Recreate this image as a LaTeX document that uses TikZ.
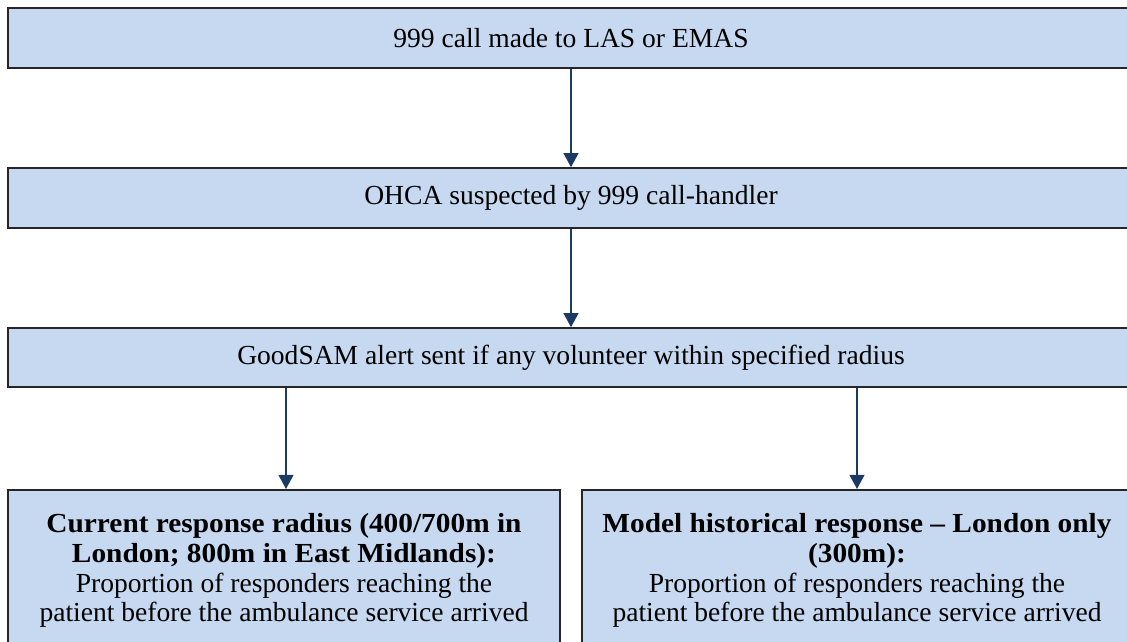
\documentclass[tikz,border=0pt]{standalone}
\usepackage{fontspec}
\setmainfont[BoldFeatures={FakeStretch=1.065}]{Liberation Serif}
\usetikzlibrary{arrows.meta}
\definecolor{boxblue}{HTML}{C6D9F0}
\definecolor{arrowblue}{HTML}{1B3A64}
\tikzstyle{box} = [rectangle, draw=black!85, line width=1.1pt, fill=boxblue, text centered, inner sep=0pt, font=\fontsize{19.6}{21.3}\selectfont]
\tikzstyle{wide} = [box, minimum width=28.15cm, minimum height=1.5cm]
\tikzstyle{result} = [box, anchor=north, minimum width=13.8cm, inner ysep=16.5pt]
\tikzstyle{arrow} = [line width=1.3pt, draw=arrowblue, -{Triangle[length=10pt,width=10.5pt]}, arrowblue]

\begin{document}
\begin{tikzpicture}[x=0.025cm,y=-0.025cm]
	\clip (0,0) rectangle (1127,641);
	\node[wide] (call) at (571,38) {999 call made to LAS or EMAS};
	\node[wide] (ohca) at (571,198) {OHCA suspected by 999 call-handler};
	\node[wide, minimum height=1.475cm] (alert) at (571,357.5) {GoodSAM alert sent if any volunteer within specified radius};
	\node[result] (current) at (284,489) {\parbox[t][4.5cm][t]{13.4cm}{\centering
		\textbf{Current response radius (400/700m in}\\
		\textbf{London; 800m in East Midlands):}\\
		Proportion of responders reaching the\\
		patient before the ambulance service arrived}};
	\node[result, minimum width=13.75cm] (historic) at (857,489) {\parbox[t][4.5cm][t]{13.4cm}{\centering
		\textbf{Model historical response -- London only}\\
		\textbf{(300m):}\\
		Proportion of responders reaching the\\
		patient before the ambulance service arrived}};
	\draw[arrow] (call) -- (ohca);
	\draw[arrow] (ohca) -- (alert);
	\draw[arrow] ([xshift=0.05cm]alert.south -| current.north) -- ([xshift=0.05cm]current.north);
	\draw[arrow] (alert.south -| historic.north) -- (historic.north);
\end{tikzpicture}
\end{document}
